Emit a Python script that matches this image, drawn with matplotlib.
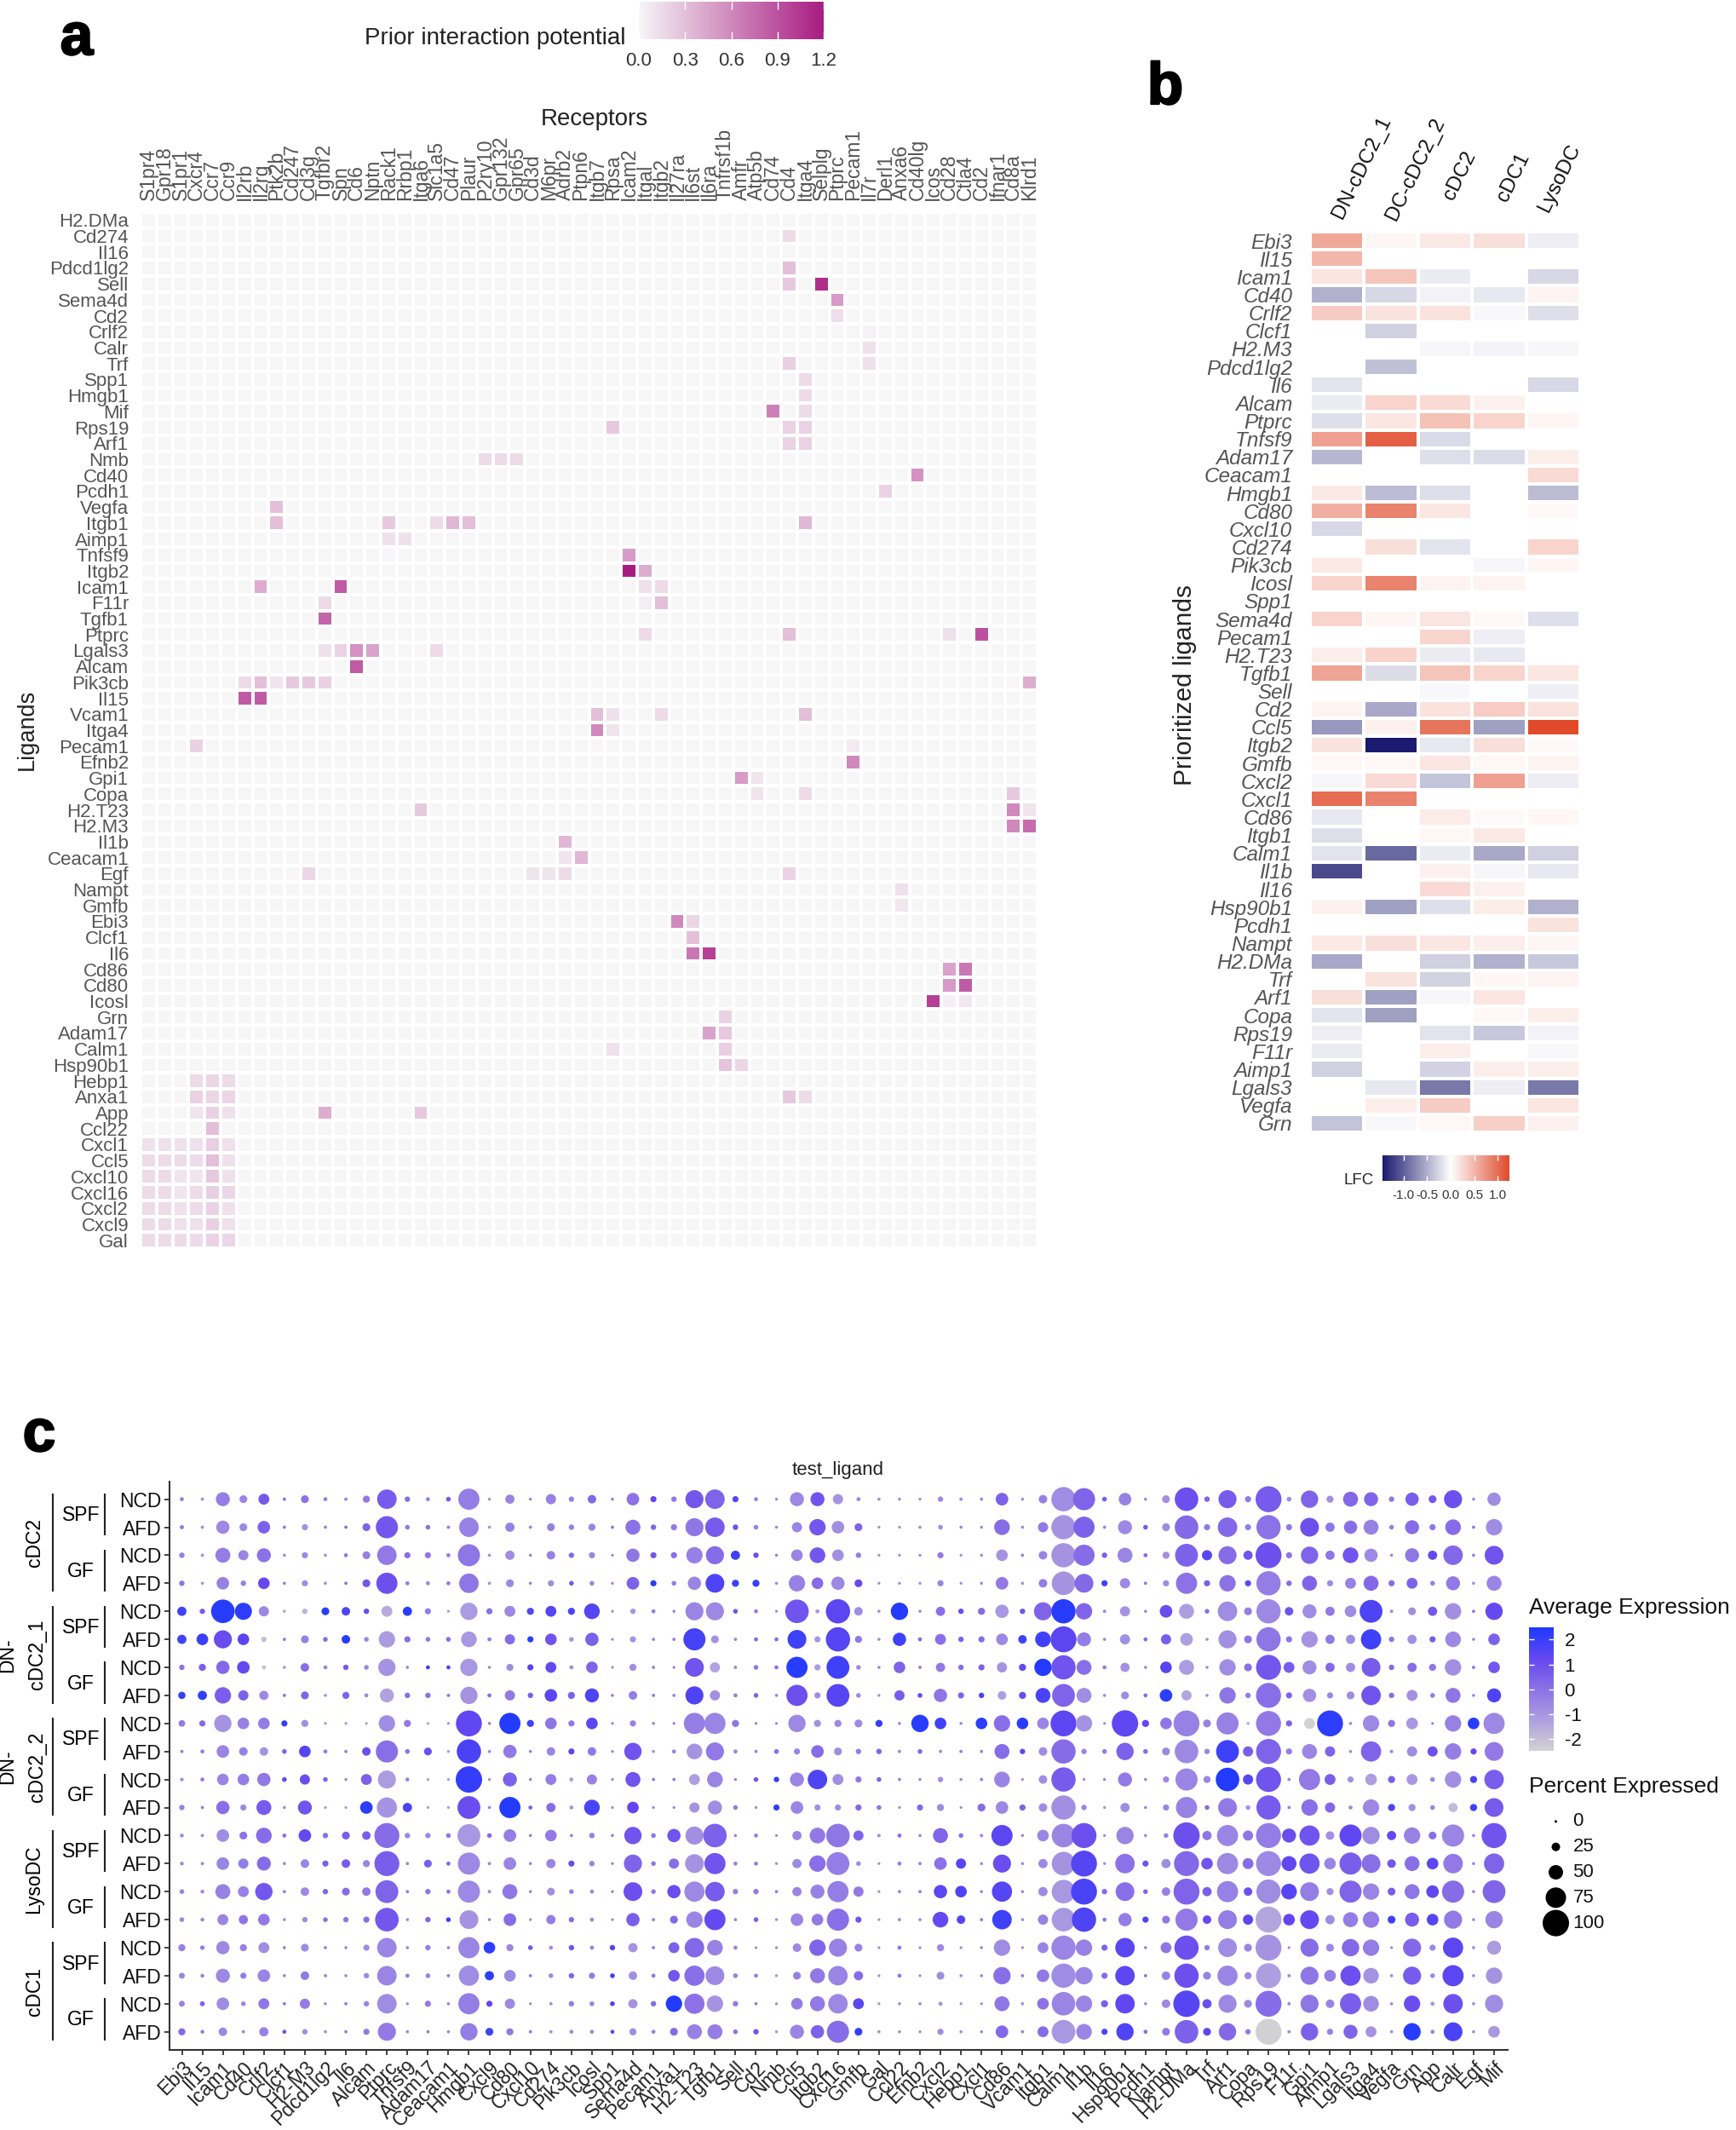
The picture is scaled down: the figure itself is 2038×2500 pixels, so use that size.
import numpy as np
import matplotlib
matplotlib.use('Agg')
import matplotlib.pyplot as plt
import matplotlib.patheffects as pe
from matplotlib.colors import LinearSegmentedColormap
from matplotlib.transforms import blended_transform_factory, IdentityTransform

plt.rcParams['font.family'] = ['Liberation Sans', 'DejaVu Sans']

W, H = 2038, 2500
GREY = '#555555'

# ---- panel a data ----
receptors = ['S1pr4', 'Gpr18', 'S1pr1', 'Cxcr4', 'Ccr7', 'Ccr9', 'Il2rb', 'Il2rg', 'Ptk2b', 'Cd247', 'Cd3g', 'Tgfbr2',
             'Spn', 'Cd6', 'Nptn', 'Rack1', 'Rrbp1', 'Itga6', 'Slc1a5', 'Cd47', 'Plaur', 'P2ry10', 'Gpr132', 'Gpr65',
             'Cd3d', 'M6pr', 'Adrb2', 'Ptpn6', 'Itgb7', 'Rpsa', 'Icam2', 'Itgal', 'Itgb2', 'Il27ra', 'Il6st', 'Il6ra',
             'Tnfrsf1b', 'Amfr', 'Atp5b', 'Cd74', 'Cd4', 'Itga4', 'Selplg', 'Ptprc', 'Pecam1', 'Il7r', 'Derl1', 'Anxa6',
             'Cd40lg', 'Icos', 'Cd28', 'Ctla4', 'Cd2', 'Ifnar1', 'Cd8a', 'Klrd1']
ligands_a = ['H2.DMa', 'Cd274', 'Il16', 'Pdcd1lg2', 'Sell', 'Sema4d', 'Cd2', 'Crlf2', 'Calr', 'Trf', 'Spp1', 'Hmgb1',
             'Mif', 'Rps19', 'Arf1', 'Nmb', 'Cd40', 'Pcdh1', 'Vegfa', 'Itgb1', 'Aimp1', 'Tnfsf9', 'Itgb2', 'Icam1',
             'F11r', 'Tgfb1', 'Ptprc', 'Lgals3', 'Alcam', 'Pik3cb', 'Il15', 'Vcam1', 'Itga4', 'Pecam1', 'Efnb2', 'Gpi1',
             'Copa', 'H2.T23', 'H2.M3', 'Il1b', 'Ceacam1', 'Egf', 'Nampt', 'Gmfb', 'Ebi3', 'Clcf1', 'Il6', 'Cd86',
             'Cd80', 'Icosl', 'Grn', 'Adam17', 'Calm1', 'Hsp90b1', 'Hebp1', 'Anxa1', 'App', 'Ccl22', 'Cxcl1', 'Ccl5',
             'Cxcl10', 'Cxcl16', 'Cxcl2', 'Cxcl9', 'Gal']
# only the non zero cells
prior = {
    'Cd274': {'Cd4': .15}, 'Pdcd1lg2': {'Cd4': .3}, 'Sell': {'Cd4': .25, 'Selplg': 1.1},
    'Sema4d': {'Ptprc': .5}, 'Cd2': {'Ptprc': .14}, 'Crlf2': {'Il7r': .03}, 'Calr': {'Il7r': .12},
    'Trf': {'Cd4': .22, 'Il7r': .12}, 'Spp1': {'Itga4': .15}, 'Hmgb1': {'Itga4': .15},
    'Mif': {'Cd74': .65, 'Itga4': .15}, 'Rps19': {'Rpsa': .25, 'Cd4': .2, 'Itga4': .2},
    'Arf1': {'Cd4': .2, 'Itga4': .2}, 'Nmb': {'P2ry10': .15, 'Gpr132': .15, 'Gpr65': .15},
    'Cd40': {'Cd40lg': .55}, 'Pcdh1': {'Derl1': .2}, 'Vegfa': {'Ptk2b': .3},
    'Itgb1': {'Ptk2b': .3, 'Rack1': .25, 'Slc1a5': .15, 'Cd47': .35, 'Plaur': .3, 'Itga4': .35},
    'Aimp1': {'Rack1': .12, 'Rrbp1': .12}, 'Tnfsf9': {'Icam2': .5}, 'Itgb2': {'Icam2': 1.2, 'Itgal': .4},
    'Icam1': {'Il2rg': .4, 'Spn': .85, 'Itgal': .12, 'Itgb2': .15},
    'F11r': {'Tgfbr2': .15, 'Itgal': .05, 'Itgb2': .3}, 'Tgfb1': {'Tgfbr2': .8},
    'Ptprc': {'Itgal': .15, 'Cd4': .3, 'Cd28': .12, 'Cd2': .9},
    'Lgals3': {'Tgfbr2': .12, 'Spn': .2, 'Cd6': .55, 'Nptn': .45, 'Slc1a5': .15}, 'Alcam': {'Cd6': .85},
    'Pik3cb': {'Il2rb': .15, 'Il2rg': .3, 'Ptk2b': .1, 'Cd247': .25, 'Cd3g': .25, 'Tgfbr2': .2, 'Klrd1': .4},
    'Il15': {'Il2rb': .85, 'Il2rg': .85}, 'Vcam1': {'Itgb7': .3, 'Rpsa': .12, 'Itgb2': .15, 'Itga4': .3},
    'Itga4': {'Itgb7': .6, 'Rpsa': .1}, 'Pecam1': {'Cxcr4': .2, 'Pecam1': .07}, 'Efnb2': {'Pecam1': .6},
    'Gpi1': {'Amfr': .5, 'Atp5b': .1}, 'Copa': {'Atp5b': .1, 'Itga4': .15, 'Cd8a': .25},
    'H2.T23': {'Itga6': .25, 'Cd8a': .6, 'Klrd1': .1}, 'H2.M3': {'Cd8a': .6, 'Klrd1': .75},
    'Il1b': {'Adrb2': .35}, 'Ceacam1': {'Adrb2': .1, 'Ptpn6': .35},
    'Egf': {'Cd3g': .18, 'Cd3d': .1, 'M6pr': .1, 'Adrb2': .15, 'Cd4': .2}, 'Nampt': {'Anxa6': .12},
    'Gmfb': {'Anxa6': .08}, 'Ebi3': {'Il27ra': .6, 'Il6st': .18}, 'Clcf1': {'Il6st': .3},
    'Il6': {'Il6st': .7, 'Il6ra': 1.0}, 'Cd86': {'Cd28': .45, 'Ctla4': .7}, 'Cd80': {'Cd28': .5, 'Ctla4': .85},
    'Icosl': {'Icos': 1.0, 'Cd28': .04, 'Ctla4': .08}, 'Grn': {'Tnfrsf1b': .2},
    'Adam17': {'Il6ra': .45, 'Tnfrsf1b': .25}, 'Calm1': {'Rpsa': .12, 'Tnfrsf1b': .22},
    'Hsp90b1': {'Tnfrsf1b': .28, 'Amfr': .18}, 'Hebp1': {'Cxcr4': .15, 'Ccr7': .18, 'Ccr9': .15},
    'Anxa1': {'Cxcr4': .2, 'Ccr7': .18, 'Ccr9': .18, 'Cd4': .25, 'Itga4': .15},
    'App': {'Cxcr4': .1, 'Ccr7': .2, 'Ccr9': .12, 'Tgfbr2': .4, 'Itga6': .25}, 'Ccl22': {'Ccr7': .3},
}
chemokine_rows = {
    'Cxcl1': [.12, .12, .12, .12, .22, .12], 'Ccl5': [.15, .15, .15, .15, .3, .12],
    'Cxcl10': [.15, .15, .1, .1, .25, .12], 'Cxcl16': [.15, .15, .1, .15, .22, .18],
    'Cxcl2': [.15, .15, .12, .15, .2, .12], 'Cxcl9': [.15, .15, .12, .12, .22, .12],
    'Gal': [.15, .15, .15, .15, .2, .18],
}

# ---- panel b data ----
celltypes_b = ['DN-cDC2_1', 'DC-cDC2_2', 'cDC2', 'cDC1', 'LysoDC']
N = np.nan
lfc = {
    'Ebi3': [.6, .06, .15, .22, -.1], 'Il15': [.5, N, N, N, N], 'Icam1': [.18, .4, -.13, N, -.25],
    'Cd40': [-.5, -.25, -.08, -.15, .08], 'Crlf2': [.35, .2, .2, -.04, -.2], 'Clcf1': [N, -.3, N, N, N],
    'H2.M3': [N, N, -.05, -.07, -.05], 'Pdcd1lg2': [N, -.4, N, N, N], 'Il6': [-.17, N, N, N, -.25],
    'Alcam': [-.13, .3, .25, .1, N], 'Ptprc': [-.2, .17, .42, .3, .06], 'Tnfsf9': [.65, 1.1, -.23, N, N],
    'Adam17': [-.45, N, -.2, -.22, .12], 'Ceacam1': [N, N, N, N, .25], 'Hmgb1': [.15, -.42, -.2, N, -.42],
    'Cd80': [.55, .85, .17, N, .04], 'Cxcl10': [-.25, N, N, N, N], 'Cd274': [N, .22, -.17, N, .3],
    'Pik3cb': [.15, N, N, -.05, .06], 'Icosl': [.28, .85, .08, .08, N], 'Spp1': [N, N, N, N, N],
    'Sema4d': [.3, .06, .17, .04, -.2], 'Pecam1': [N, N, .28, -.1, N], 'H2.T23': [.12, .3, -.13, -.15, N],
    'Tgfb1': [.62, -.22, .4, .3, .17], 'Sell': [N, N, -.04, N, -.1], 'Cd2': [.08, -.55, .2, .35, .2],
    'Ccl5': [-.65, .1, .95, -.6, 1.25], 'Itgb2': [.2, -1.45, -.15, .22, .04], 'Gmfb': [.05, .05, .17, .05, .07],
    'Cxcl2': [-.05, .25, -.38, .65, -.12], 'Cxcl1': [1.0, .85, N, N, N], 'Cd86': [-.15, N, .14, .03, .05],
    'Itgb1': [-.2, N, .05, .15, N], 'Calm1': [-.17, -.95, -.13, -.55, -.3], 'Il1b': [-1.15, N, .1, -.05, -.15],
    'Il16': [N, N, .25, .1, N], 'Hsp90b1': [.1, -.6, -.2, .13, -.5], 'Pcdh1': [N, N, N, N, .2],
    'Nampt': [.15, .22, .17, .12, .06], 'H2.DMa': [-.55, N, -.3, -.5, -.35], 'Trf': [N, .2, -.28, .05, .08],
    'Arf1': [.22, -.6, -.05, .17, N], 'Copa': [-.17, -.6, N, .04, .12], 'Rps19': [-.1, N, -.18, -.35, -.08],
    'F11r': [-.13, N, .12, N, -.04], 'Aimp1': [-.3, N, -.28, .12, .12], 'Lgals3': [N, -.15, -.85, -.1, -.85],
    'Vegfa': [N, .12, .35, N, .17], 'Grn': [-.38, -.04, .05, .33, .1],
}

# ---- panel c data: one list per ligand, rows top to bottom ----
row_diets = ['NCD', 'AFD'] * 10
row_housing = ['SPF', 'GF'] * 5
row_types = ['cDC2', 'DN-\ncDC2_1', 'DN-\ncDC2_2', 'LysoDC', 'cDC1']
pct = {
    'Ebi3': [6, 7, 12, 12, 28, 28, 12, 20, 17, 3, 4, 12, 5, 5, 9, 9, 19, 14, 14, 19],
    'Il15': [3, 3, 3, 2, 12, 38, 19, 28, 15, 6, 6, 3, 3, 3, 5, 5, 8, 5, 10, 5],
    'Icam1': [48, 45, 52, 42, 88, 65, 45, 58, 62, 42, 38, 45, 42, 42, 52, 35, 45, 48, 42, 25],
    'Cd40': [22, 22, 32, 12, 61, 38, 42, 32, 38, 25, 38, 15, 22, 32, 35, 28, 19, 15, 9, 3],
    'Crlf2': [35, 42, 48, 38, 32, 12, 6, 28, 38, 25, 45, 52, 55, 48, 62, 38, 35, 42, 35, 28],
    'Clcf1': [3, 3, 2, 2, 3, 3, 2, 3, 15, 9, 9, 2, 6, 2, 3, 2, 2, 2, 3, 6],
    'H2-M3': [22, 15, 15, 15, 12, 22, 25, 22, 19, 38, 32, 48, 42, 25, 25, 12, 22, 25, 32, 12],
    'Pdcd1lg2': [6, 3, 2, 2, 22, 9, 6, 2, 1, 6, 9, 1, 12, 15, 12, 9, 3, 3, 2, 2],
    'Il6': [3, 3, 6, 3, 25, 25, 12, 19, 1, 3, 2, 1, 22, 25, 22, 12, 2, 2, 3, 3],
    'Alcam': [19, 22, 22, 22, 12, 9, 9, 6, 1, 25, 35, 42, 25, 19, 25, 15, 15, 12, 12, 15],
    'Ptprc': [71, 82, 71, 78, 35, 58, 62, 48, 58, 82, 65, 74, 94, 94, 85, 88, 71, 71, 71, 65],
    'Tnfsf9': [12, 9, 15, 6, 28, 15, 2, 12, 19, 9, 6, 28, 12, 3, 3, 2, 2, 6, 1, 2],
    'Adam17': [6, 9, 15, 6, 15, 9, 6, 12, 1, 22, 1, 1, 12, 22, 12, 12, 12, 9, 15, 3],
    'Ceacam1': [9, 3, 6, 6, 1, 9, 6, 3, 1, 1, 1, 1, 9, 6, 6, 9, 2, 3, 2, 2],
    'Hmgb1': [78, 71, 82, 71, 62, 55, 62, 62, 98, 91, 100, 85, 85, 82, 82, 68, 78, 74, 78, 62],
    'Cxcl9': [2, 2, 2, 2, 15, 6, 2, 6, 2, 2, 1, 2, 9, 3, 3, 2, 38, 28, 15, 22],
    'Cd80': [28, 28, 28, 22, 35, 32, 19, 32, 78, 45, 48, 78, 42, 42, 52, 42, 19, 38, 32, 19],
    'Cxcl10': [2, 3, 2, 2, 19, 15, 15, 12, 19, 2, 2, 6, 2, 2, 2, 1, 9, 3, 1, 3],
    'Cd274': [32, 22, 25, 15, 35, 38, 35, 42, 38, 25, 35, 28, 38, 28, 22, 28, 6, 9, 3, 3],
    'Pik3cb': [12, 12, 12, 9, 19, 9, 6, 19, 15, 15, 6, 6, 3, 15, 9, 12, 12, 12, 12, 6],
    'Icosl': [25, 19, 15, 9, 55, 45, 38, 48, 38, 25, 32, 55, 12, 12, 6, 6, 6, 15, 9, 6],
    'Spp1': [2, 3, 1, 1, 1, 1, 1, 2, 1, 1, 1, 1, 2, 1, 1, 1, 12, 9, 9, 6],
    'Sema4d': [42, 52, 45, 42, 12, 15, 19, 25, 15, 62, 52, 38, 62, 65, 68, 45, 28, 25, 28, 19],
    'Pecam1': [15, 12, 15, 15, 6, 3, 3, 3, 2, 2, 3, 1, 9, 9, 9, 3, 3, 6, 12, 6],
    'Anxa1': [12, 15, 15, 9, 2, 3, 1, 3, 1, 6, 3, 1, 45, 32, 45, 22, 35, 38, 58, 22],
    'H2-T23': [65, 65, 58, 45, 65, 82, 68, 65, 78, 55, 35, 32, 65, 68, 74, 58, 71, 74, 74, 52],
    'Tgfb1': [71, 71, 65, 68, 65, 22, 32, 32, 78, 65, 55, 48, 88, 78, 71, 78, 55, 68, 58, 52],
    'Sell': [15, 12, 28, 19, 9, 3, 3, 6, 19, 6, 2, 9, 2, 6, 12, 3, 6, 9, 12, 9],
    'Cd2': [6, 9, 12, 19, 6, 6, 9, 9, 1, 3, 9, 1, 6, 6, 12, 9, 1, 6, 3, 12],
    'Nmb': [1, 2, 2, 2, 1, 6, 6, 2, 1, 9, 12, 15, 1, 1, 3, 1, 1, 1, 1, 1],
    'Ccl5': [48, 32, 38, 58, 88, 68, 78, 78, 62, 15, 48, 42, 28, 28, 28, 42, 25, 22, 38, 48],
    'Itgb2': [48, 58, 55, 38, 6, 15, 15, 15, 19, 42, 71, 15, 55, 58, 48, 38, 58, 52, 52, 45],
    'Cxcl16': [32, 42, 38, 45, 91, 91, 85, 85, 19, 22, 35, 15, 88, 85, 78, 82, 65, 71, 71, 82],
    'Gmfb': [6, 22, 12, 22, 25, 19, 9, 9, 22, 12, 15, 15, 32, 9, 32, 15, 22, 28, 35, 22],
    'Gal': [2, 1, 1, 1, 2, 2, 2, 1, 19, 12, 9, 9, 3, 1, 1, 1, 1, 1, 1, 2],
    'Ccl22': [2, 1, 1, 1, 62, 45, 38, 32, 2, 3, 3, 1, 6, 6, 3, 3, 6, 6, 2, 2],
    'Efnb2': [1, 2, 1, 1, 2, 6, 3, 9, 62, 9, 2, 15, 2, 3, 3, 2, 1, 1, 2, 1],
    'Cxcl2': [12, 9, 15, 15, 28, 35, 28, 45, 38, 3, 12, 19, 52, 42, 45, 55, 19, 22, 6, 15],
    'Hebp1': [3, 2, 1, 1, 12, 12, 12, 15, 2, 3, 2, 1, 9, 32, 38, 25, 1, 2, 1, 2],
    'Cxcl1': [3, 2, 2, 2, 19, 15, 15, 12, 38, 3, 3, 22, 3, 2, 2, 3, 2, 2, 1, 2],
    'Cd86': [42, 55, 38, 42, 45, 38, 32, 25, 58, 52, 55, 42, 78, 65, 74, 71, 58, 62, 52, 42],
    'Vcam1': [2, 2, 3, 2, 12, 25, 19, 19, 38, 12, 1, 15, 2, 2, 2, 2, 1, 3, 2, 3],
    'Itgb1': [25, 32, 25, 25, 65, 55, 62, 52, 38, 25, 25, 25, 38, 28, 28, 32, 35, 42, 38, 35],
    'Calm1': [91, 91, 91, 88, 91, 98, 91, 85, 98, 91, 91, 91, 88, 88, 88, 88, 91, 91, 88, 88],
    'Il1b': [82, 78, 78, 68, 58, 48, 52, 52, 58, 12, 1, 12, 94, 98, 98, 91, 58, 62, 58, 55],
    'Il16': [9, 3, 12, 15, 3, 2, 6, 2, 1, 9, 2, 1, 1, 1, 12, 6, 15, 15, 19, 15],
    'Hsp90b1': [42, 48, 52, 32, 32, 32, 28, 22, 100, 62, 48, 28, 62, 71, 68, 45, 71, 71, 71, 62],
    'Pcdh1': [2, 9, 6, 3, 2, 6, 2, 6, 19, 9, 2, 2, 2, 15, 9, 15, 2, 3, 2, 6],
    'Nampt': [22, 22, 19, 15, 42, 32, 38, 42, 38, 22, 15, 15, 9, 28, 25, 22, 35, 25, 25, 22],
    'H2-DMa': [88, 88, 85, 78, 52, 42, 52, 32, 98, 88, 82, 78, 100, 94, 98, 82, 91, 91, 100, 88],
    'Trf': [12, 15, 32, 15, 9, 2, 2, 2, 22, 12, 19, 9, 28, 38, 28, 25, 12, 22, 28, 22],
    'Arf1': [65, 71, 65, 58, 71, 65, 58, 58, 82, 85, 88, 68, 78, 78, 78, 68, 68, 74, 65, 62],
    'Copa': [15, 15, 28, 15, 22, 22, 22, 12, 2, 32, 32, 9, 32, 35, 25, 32, 22, 19, 22, 12],
    'Rps19': [98, 91, 98, 91, 91, 91, 94, 94, 94, 94, 94, 91, 94, 94, 91, 98, 98, 94, 98, 98],
    'F11r': [9, 15, 15, 12, 25, 15, 35, 15, 15, 15, 3, 3, 48, 52, 55, 38, 1, 3, 3, 3],
    'Gpi1': [62, 68, 62, 52, 48, 58, 48, 45, 35, 52, 78, 58, 74, 74, 68, 68, 65, 65, 65, 62],
    'Aimp1': [19, 28, 28, 15, 28, 28, 28, 15, 98, 32, 35, 32, 25, 38, 19, 28, 22, 38, 25, 15],
    'Lgals3': [52, 45, 55, 35, 38, 28, 28, 22, 2, 2, 15, 6, 82, 82, 82, 52, 62, 74, 78, 48],
    'Itga4': [48, 52, 45, 52, 85, 74, 68, 71, 58, 74, 38, 58, 62, 68, 58, 58, 58, 55, 55, 35],
    'Vegfa': [12, 9, 2, 15, 3, 12, 12, 12, 19, 3, 19, 19, 28, 25, 22, 22, 1, 2, 2, 2],
    'Grn': [45, 48, 48, 35, 22, 28, 28, 35, 38, 32, 35, 19, 58, 52, 52, 48, 65, 65, 58, 62],
    'App': [22, 15, 28, 9, 28, 15, 19, 9, 1, 32, 9, 9, 22, 38, 42, 38, 15, 9, 6, 6],
    'Calr': [65, 55, 71, 48, 58, 55, 58, 52, 58, 58, 58, 28, 82, 71, 82, 65, 74, 78, 71, 68],
    'Egf': [2, 3, 3, 2, 3, 2, 3, 2, 38, 15, 19, 19, 2, 2, 2, 2, 2, 2, 2, 2],
    'Mif': [45, 58, 68, 52, 62, 38, 38, 48, 78, 68, 71, 68, 94, 74, 85, 62, 48, 58, 65, 38],
}
avg = {
    'Ebi3': [-.3, -.3, -.3, -.1, 1.9, 1.9, 0, 2, -.2, -.3, -.5, -.4, -.5, -.6, -.5, -.5, -.4, -.5, -.4, .3],
    'Il15': [-.8, -.8, -.8, -.8, .6, 2, .6, 2.1, .3, -.2, -.3, -.3, -.5, -.5, -.5, -.4, -.2, -.3, .4, -.2],
    'Icam1': [-.3, -.6, -.3, -.4, 2.3, 1.1, .3, .6, -.9, -.5, -.5, .1, -.7, -.5, -.4, -.5, -.6, -.6, -.7, -.6],
    'Cd40': [-.5, -.6, -.5, -.4, 2.2, 1.4, 1.2, .5, -.4, -.4, -.3, -.6, 0, -.3, -.4, -.1, -.4, -.3, -.5, -.5],
    'Crlf2': [.8, .5, 0, 1.2, -.6, -2, -2, -.6, -.3, -.9, -.2, .7, .2, .2, .8, -.2, -.7, -.5, -.1, -.4],
    'Clcf1': [.2, -.1, -.4, -.2, -1.5, -.2, -.8, 0, 2.1, .5, 1.2, -.5, .1, -.3, -.3, -.6, 0, -.3, -.1, 1],
    'H2-M3': [0, -.8, -.6, -.7, -1.7, -.4, .1, .4, -.8, 1.5, 1.1, .9, 1.2, -.5, -.6, -.7, -.7, -.2, -.3, -.7],
    'Pdcd1lg2': [-.4, -.5, -.5, -.5, 2.2, .2, -.5, -.7, -1, -.3, .4, -1, .1, .6, .4, .1, -.4, -.5, -.6, -.5],
    'Il6': [-.4, .2, -.2, -.1, 1.6, 2.3, .8, .4, -1, -.4, -.7, -1, .7, .7, .2, -.1, -.4, -.5, -.3, -.3],
    'Alcam': [-.2, .4, -.4, .8, 1.1, -.5, -.5, -.6, -1.2, 1, .5, 2.2, .6, -.5, -.2, .1, -.7, -.6, -.5, -.2],
    'Ptprc': [.7, .8, -.2, 1, -1.5, -1.1, -.9, -1.3, -.7, .1, -1.1, -.9, .2, .6, .4, .8, -.5, -.5, -.7, -.2],
    'Tnfsf9': [.1, -.2, .2, -.2, 2.2, .2, -.3, .2, -.2, 0, -.6, 1.7, -.5, -.5, -.3, -.5, -.3, -.2, -.5, -.4],
    'Adam17': [-.3, 0, -.1, -.5, -.3, -.2, 2, 0, -1.3, 1, -1, -1, -.6, .6, -.1, .4, -.3, -.4, -.2, -.3],
    'Ceacam1': [.8, -.1, -.2, -.2, -1, .2, 1.6, 0, -1, -1, -1, -1, -.1, .4, 0, 2, -.3, -.2, -.3, -.3],
    'Hmgb1': [-.3, -.4, -.1, -.1, -1.1, -1, -1, -.9, 1.3, 1.7, 2.1, 1.1, -1, -.6, -.6, -.9, -.5, -.7, -.3, -.3],
    'Cxcl9': [-.8, -.8, -.6, -.6, .1, -.3, -.6, .2, -.3, -.5, -.5, -.4, .2, -.5, -.4, -.3, 2.2, 2.2, 1.3, 1.9],
    'Cd80': [-.5, -.4, -.7, -.6, -.6, .2, -.7, -.2, 2.4, -.2, .5, 2.4, -.3, -.5, -.1, .2, -.5, -.6, -.6, -.2],
    'Cxcl10': [-.5, -.5, -.4, -.4, 1.5, 2.3, 1.5, .6, 1.8, -.3, -.3, .6, -.3, -.4, -.4, -.4, .8, -.3, -.5, -.1],
    'Cd274': [-.4, -.4, -.4, -.7, 1.5, .9, 1.2, 1.4, -.1, -.5, -.3, .2, -.2, -.5, -.8, -.3, -.7, -.7, -.7, -.8],
    'Pik3cb': [-.4, -.4, .3, .8, 1.7, -1, -.7, .5, -.2, 1.3, -1.1, -1, -.4, 1.1, -.4, .2, .9, .4, -.3, -.6],
    'Icosl': [.3, -.5, -.5, -.5, 1.5, .5, .4, 1.6, 1.4, -.2, -.4, 1.7, -.4, -.5, -.5, -.5, -.3, -.3, -.4, -.5],
    'Spp1': [-.3, -.1, -.4, -.4, -.6, -.6, -.7, -.2, -.4, -.3, -.3, -.5, -.2, -.3, -.2, -.4, 1.6, 2, 1.7, 1.4],
    'Sema4d': [0, 0, -.1, .5, -1, -.9, -.7, -.3, -.4, .9, .9, 1.3, .9, .4, 1, .6, -.9, -.8, -.9, -.7],
    'Pecam1': [1.3, .4, .8, 2.2, -.2, -.4, -.4, -.2, -.5, -.6, -.2, -.5, -.1, -.1, -.2, -.4, -.3, -.2, .2, -.4],
    'Anxa1': [-.2, -.2, .1, -.3, -.5, -.4, -.5, -.5, -.5, -.4, -.3, -.5, .9, .1, 1.1, .3, .5, .8, 2.4, .2],
    'H2-T23': [.8, -.1, -.4, -.5, -.5, 1.8, .9, 1.6, -.3, -.9, -1.2, -.9, -.8, -.9, -.6, -.5, .3, .1, 0, -.4],
    'Tgfb1': [.4, .7, .2, 1.6, -.6, -.9, -1.3, -.8, -.5, -.2, -.5, -.7, .5, .9, .7, 1.2, -.4, -.6, -.9, -.3],
    'Sell': [1.5, 1.1, 1.9, 1.9, .9, -.5, -.4, -.4, -.1, -.4, -.6, -.3, -.4, -.4, -.4, -.4, -.4, -.4, -.2, -.1],
    'Cd2': [-.4, -.4, 1, 2, -.3, .3, -.1, .5, -.5, -.5, .8, -.5, -.3, -.3, -.2, .6, -.5, -.3, -.4, .9],
    'Nmb': [-.5, -.5, -.3, -.5, -.6, .2, 0, -.3, -.6, .2, 2.1, 2.1, -.6, -.6, -.3, -.5, -.5, -.6, -.6, -.6],
    'Ccl5': [-.6, -.5, -.5, -.4, .9, 1.9, 2.3, 1, -.6, -.5, -.5, -.5, -.5, -.6, -.5, -.5, -.6, -.4, -.3, -.5],
    'Itgb2': [.9, .8, .8, .2, -1, -1, -1.1, -.7, -.8, .2, 1.6, -.8, -.2, .1, -.4, -.2, .4, -.2, -.2, .5],
    'Cxcl16': [-.9, -.8, -.8, -.6, 1.4, 1.5, 1.9, 1.5, -.6, -.7, -.8, -.7, -.1, -.3, -.3, .1, -.4, -.5, -.6, .2],
    'Gmfb': [-.5, .4, -.3, 1.2, -.7, -.2, -.7, -.6, -.6, -.3, -.1, .3, .4, -.7, -.2, .9, -.4, .2, 1.4, 2.1],
    'Gal': [-.6, -.6, -.6, -.6, -.5, -.5, -.5, -.6, 2.1, .4, .5, -.1, -.5, -.7, -.7, -.7, -.7, -.7, -.7, -.6],
    'Ccl22': [-.6, -.6, -.6, -.6, 2.4, 1.9, .4, .7, -.5, -.5, -.4, -.6, .2, -.3, -.4, -.5, -.1, -.1, -.6, -.6],
    'Efnb2': [-.6, -.5, -.6, -.6, -.5, .2, -.2, 1.2, 2.3, .3, -.6, .3, -.4, -.4, -.3, -.4, -.5, -.5, -.5, -.5],
    'Cxcl2': [-.6, -.7, -.2, -.5, .1, .1, -.2, -.1, 1.9, -.5, -.8, -.7, .4, 0, 1.4, 1.2, -.6, -.7, -.8, -.7],
    'Hebp1': [-.5, -.5, -.6, -.6, 1, .5, .2, .4, -.6, -.4, -.6, -.6, 0, 1.5, 1.6, 1.5, -.7, -.6, -.7, -.6],
    'Cxcl1': [-.5, -.6, -.6, -.6, .2, .2, .5, 1.8, 2.2, -.5, -.4, .2, -.4, -.5, -.4, -.2, -.5, -.5, -.6, -.5],
    'Cd86': [.5, .2, -.9, -.2, -1, -.6, -.9, -1.2, .1, .2, -.5, -.6, 1.4, 1.1, 1.5, 1.9, -.7, .1, -.1, .3],
    'Vcam1': [-.6, -.5, -.4, -.6, .9, 1.9, 1.2, 1.1, 2.3, 1.3, -.7, .5, -.5, -.5, -.4, -.5, -.6, -.4, -.6, -.4],
    'Itgb1': [-.4, -.2, -.5, -.3, .4, 1.9, 2.4, 1.7, -.5, -.7, -.8, -.7, -.5, -.6, -.6, -.4, -.5, -.2, 0, .2],
    'Calm1': [-.7, -.9, -.9, -.9, 2.3, 1.4, .9, .4, 1.4, .2, .7, -.8, -.5, -.9, -1, -1, -.5, -.7, -.5, -1],
    'Il1b': [.4, .5, .2, .3, .4, -.3, .1, -.7, -.9, -.5, -.6, -.5, 1, 1.5, 1.7, 1.6, -.4, -.5, -.5, -.5],
    'Il16': [.6, -.4, .5, 1.9, -.5, -.4, -.4, -.5, -.7, -.2, -.6, -.7, -.6, -.6, .2, -.1, .4, .2, .5, 1.7],
    'Hsp90b1': [-.4, -.6, -.5, -.6, -.9, -.8, -.8, -.7, 1.3, .5, -.2, -.7, -.5, 0, .1, -.3, 1.4, 1.4, 1.3, 1.6],
    'Pcdh1': [-.5, .8, .3, -.2, -.5, .2, -.5, .2, 1.3, .2, -.5, -.5, -.5, .9, .4, 1.7, -.3, -.1, -.5, .1],
    'Nampt': [-.8, -.7, -.8, -.7, 1.1, .6, 1.5, 2.2, -.1, -.6, -.6, -.5, -.4, -.7, -.4, -.2, -.1, -.4, -.6, -.2],
    'H2-DMa': [1, .3, .5, 0, -1.2, -1.2, -1.1, -1.4, -.4, -.6, -.5, -.4, 1, .3, .4, -.2, 1, 1, 1.5, .5],
    'Trf': [.4, -.2, 1.5, .6, 0, -.7, -.7, -.7, -.4, -.5, -.5, .2, -.1, .9, .6, 1.2, -.3, -.4, 1, 1.4],
    'Arf1': [.7, .3, .2, 0, -.7, -.8, -.7, -.1, -.4, 1.9, 2.4, -.2, -.5, -.6, -.4, -.3, -.7, -.5, -.6, .3],
    'Copa': [-.2, -.3, .9, 1.3, -.3, -.1, .1, -.3, -1.5, .6, 1.5, -.9, -.1, .2, 1, 1.4, -.5, -.6, -.6, -.3],
    'Rps19': [.7, 0, 1, -.3, -.6, -.1, .8, .1, -.2, .4, .9, .7, -.3, -.6, -.7, -1.4, -.9, -1.2, .2, -2.4],
    'F11r': [-.6, -.2, -.1, .2, .9, -.1, .7, .4, .5, -.3, -.5, -.4, 1.1, 1.3, 1.5, 1.3, -.6, -.5, -.5, -.5],
    'Gpi1': [.4, 1, .4, .4, -.7, -.9, -.7, -.8, -2.4, -.5, -.2, .1, .9, .9, -.3, 1.2, .2, -.1, -.1, .5],
    'Aimp1': [-.8, -.1, -.1, -.7, -.2, -.2, .3, -.5, 2.2, .4, .6, .3, -.8, -.5, -.8, -.7, -.6, -.3, -.5, -.4],
    'Lgals3': [.3, .1, .9, -.4, -.7, -.7, -.7, -.7, -.5, -.5, -.8, -.6, 1.3, .6, .4, -.3, .3, 1, .6, .4],
    'Itga4': [.4, -.4, -.6, .3, 1.6, 1.9, .7, .9, -.6, .4, -1.2, -.6, -.7, .1, -.5, -.3, -.3, -.9, -.7, -.9],
    'Vegfa': [-.2, -.3, -.5, .2, -.5, -.1, .3, .2, -.1, -.3, .6, 1.6, 1.2, .8, .6, 1.9, -.5, -.5, -.5, -.5],
    'Grn': [.6, .2, -.1, .5, -.8, -.8, .2, -.8, -1, -.7, -1, -.8, -.4, .1, -.1, .6, .3, .7, 1.1, 2.3],
    'App': [.8, -.1, 1.2, -.3, .8, .7, -.2, -.2, -.5, 1, -.5, -.5, .1, 1.4, 1.3, 1.5, -.6, -.6, -.8, -.4],
    'Calr': [1, .2, .3, -.2, -.8, -.6, -.8, -.1, -.4, -.3, -.8, -1.9, -.5, -.2, .2, -.2, 1.4, 1.4, 1, 1.7],
    'Egf': [-.6, -.2, -.5, -.6, -.2, -.5, -.1, -.5, 2.3, 1.3, 1.7, 1.9, -.4, -.5, -.5, -.6, -.5, -.5, -.5, -.6],
    'Mif': [-.7, -.7, .9, -.5, 1.2, .5, .8, 1.6, -.6, -.2, .6, .7, .9, .4, .4, -.5, -1.1, -.9, -.7, -1],
}
size_breaks = [0, 25, 50, 75, 100]

# colour scales
prior_cmap = LinearSegmentedColormap.from_list('prior', ['#F7F6F7', '#A81C82'])
lfc_vmin, lfc_vmax = -1.45, 1.25
lfc_zero = -lfc_vmin/(lfc_vmax - lfc_vmin)
lfc_cmap = LinearSegmentedColormap.from_list(
    'lfc', [(0, '#1B1A6E'), (lfc_zero, '#FFFFFF'), (1, '#E04A2B')])
avg_vmin, avg_vmax = -2.47, 2.49
avg_cmap = LinearSegmentedColormap.from_list(
    'avg', ['#D3D3D3', '#AE9FE0', '#8C72E6', '#6448F0', '#1E3AFF'])

fig = plt.figure(figsize=(W/100, H/100), dpi=100)


def axes_px(left, top, right, bottom):
    return fig.add_axes([left/W, 1 - bottom/H, (right - left)/W, (bottom - top)/H])


def text_px(x, y, s, **kw):
    return fig.text(x/W, 1 - y/H, s, **kw)


def panel_letter(x, y, s):
    # the original letters are heavier than plain bold
    text_px(x, y, s, fontsize=50, fontweight='bold', ha='center', va='center',
            path_effects=[pe.withStroke(linewidth=1.6, foreground='black')])


def gradient_bar(box, cmap, vmin, vmax, ticks, labels, vertical=False, size=16, pad=4, color='#333333'):
    cax = axes_px(*box)
    grad = np.linspace(vmin, vmax, 256)
    if vertical:
        cax.imshow(grad[:, None], extent=(0, 1, vmin, vmax), origin='lower', aspect='auto', cmap=cmap)
        cax.set_xticks([])
        cax.set_yticks(ticks, labels)
        cax.yaxis.tick_right()
        cax.hlines(ticks, 0, .2, color='white', lw=1)
        cax.hlines(ticks, .8, 1, color='white', lw=1)
    else:
        cax.imshow(grad[None, :], extent=(vmin, vmax, 0, 1), aspect='auto', cmap=cmap)
        cax.set_yticks([])
        cax.set_xticks(ticks, labels)
        cax.vlines(ticks, 0, .2, color='white', lw=1)
        cax.vlines(ticks, .8, 1, color='white', lw=1)
    cax.tick_params(length=0, labelsize=size, pad=pad, labelcolor=color)
    for sp in cax.spines.values():
        sp.set_visible(False)
    return cax


# ---- panel a ----
prior_mat = np.zeros((len(ligands_a), len(receptors)))
for lig, cells in prior.items():
    for rec, val in cells.items():
        prior_mat[ligands_a.index(lig), receptors.index(rec)] = val
for lig, vals in chemokine_rows.items():
    prior_mat[ligands_a.index(lig), :len(vals)] = vals

ax_a = axes_px(165, 249, 1218, 1465)
ax_a.pcolormesh(np.arange(len(receptors) + 1), np.arange(len(ligands_a) + 1), prior_mat,
                cmap=prior_cmap, vmin=0, vmax=1.2, edgecolors='white', linewidth=1.5)
ax_a.set_xlim(0, len(receptors))
ax_a.set_ylim(len(ligands_a), 0)
ax_a.xaxis.tick_top()
ax_a.set_xticks(np.arange(len(receptors)) + .5, receptors, rotation=90, fontsize=16.5, color=GREY)
ax_a.set_yticks(np.arange(len(ligands_a)) + .5, ligands_a, fontsize=16, color=GREY)
ax_a.tick_params(length=0, pad=10)
for sp in ax_a.spines.values():
    sp.set_visible(False)

text_px(698, 140, 'Receptors', fontsize=20, ha='center', va='center', color='#222222')
text_px(32, 856, 'Ligands', fontsize=19.5, rotation=90, ha='center', va='center', color='#222222')
text_px(734, 45, 'Prior interaction potential', fontsize=20, ha='right', va='center', color='#222222')
gradient_bar((750, 2, 967, 46), prior_cmap, 0, 1.2, [0, .3, .6, .9, 1.2], ['0.0', '0.3', '0.6', '0.9', '1.2'],
             size=16, pad=11)
panel_letter(90, 46, 'a')

# ---- panel b ----
ligands_b = list(lfc)
lfc_mat = np.ma.masked_invalid(np.array([lfc[k] for k in ligands_b]))
ax_b = axes_px(1538, 272, 1855, 1329)
ax_b.pcolormesh(np.arange(len(celltypes_b) + 1), np.arange(len(ligands_b) + 1), lfc_mat,
                cmap=lfc_cmap, vmin=lfc_vmin, vmax=lfc_vmax, edgecolors='white', linewidth=1.5)
ax_b.set_xlim(0, len(celltypes_b))
ax_b.set_ylim(len(ligands_b), 0)
ax_b.set_xticks([])
ax_b.set_yticks(np.arange(len(ligands_b)) + .5, ligands_b, fontsize=17.5, color=GREY, style='italic')
ax_b.tick_params(length=0, pad=15)
for sp in ax_b.spines.values():
    sp.set_visible(False)
# top labels do not sit at one height in the original
label_offsets = [(0, 17), (0, 15), (4, 39), (4, 37), (-11, 25)]
for i, (name, off) in enumerate(zip(celltypes_b, label_offsets)):
    ax_b.annotate(name, xy=(i + .5, 0), xycoords='data', xytext=(off[0]*.72, off[1]*.72),
                  textcoords='offset points', rotation=64, rotation_mode='anchor',
                  ha='left', va='center', fontsize=17.5, color='#111111')

text_px(1391, 804, 'Prioritized ligands', fontsize=21.5, rotation=90, ha='center', va='center', color='#222222')
panel_letter(1368, 104, 'b')
text_px(1595, 1386, 'LFC', fontsize=13.5, ha='center', va='center', color='#222222')
gradient_bar((1623, 1356, 1772, 1386), lfc_cmap, lfc_vmin, lfc_vmax, [-1, -.5, 0, .5, 1],
             ['-1.0', '-0.5', '0.0', '0.5', '1.0'], size=11, pad=7)

# ---- panel c ----
ligands_c = list(pct)
n_rows = len(row_diets)
pct_mat = np.array([pct[k] for k in ligands_c], dtype=float)
avg_mat = np.array([avg[k] for k in ligands_c], dtype=float)
xx, yy = np.meshgrid(np.arange(len(ligands_c)), np.arange(n_rows), indexing='ij')


def dot_area(p):
    # radius is linear in percent, 3 px at 0 and 31 px at 100
    return ((3 + .28*np.asarray(p))*.72)**2


ax_c = axes_px(199, 1739, 1770, 2405.6)
ax_c.scatter(xx.ravel(), yy.ravel(), s=dot_area(pct_mat.ravel()), c=avg_mat.ravel(), cmap=avg_cmap,
             vmin=avg_vmin, vmax=avg_vmax, linewidths=0)
x_step, y_step = 24.07, 32.9
ax_c.set_xlim((199 - 213.5)/x_step, (1770 - 213.5)/x_step)
ax_c.set_ylim((2405.6 - 1759.6)/y_step, (1739 - 1759.6)/y_step)
ax_c.set_xticks(np.arange(len(ligands_c)), ligands_c, rotation=45, ha='right', rotation_mode='anchor',
                fontsize=16.5, color='#222222')
ax_c.set_yticks(np.arange(n_rows), row_diets, fontsize=16.5, color='#111111')
ax_c.tick_params(length=4.5, width=1.3, color='#333333', pad=2.5)
for side in ['top', 'right']:
    ax_c.spines[side].set_visible(False)
for side in ['left', 'bottom']:
    ax_c.spines[side].set_linewidth(1.5)
    ax_c.spines[side].set_color('#333333')

# row groups, x in pixels and y on the row scale
group_tr = blended_transform_factory(IdentityTransform(), ax_c.transData)


def bar_px(xpx, r0, r1):
    ax_c.plot([xpx, xpx], [r0 - .2, r1 + .3], transform=group_tr, color='#222222', lw=1.5,
              clip_on=False, solid_capstyle='butt')


for i, ctype in enumerate(row_types):
    r0 = i*4
    bar_px(62, r0, r0 + 3)
    bar_px(123, r0, r0 + 1)
    bar_px(123, r0 + 2, r0 + 3)
    ax_c.text(95, r0 + .58, row_housing[i*2], transform=group_tr, fontsize=16.5, ha='center', va='center')
    ax_c.text(95, r0 + 2.58, row_housing[i*2 + 1], transform=group_tr, fontsize=16.5, ha='center', va='center')
    if '\n' in ctype:
        ax_c.text(26, r0 + 1.55, ctype, transform=group_tr, fontsize=16.5, rotation=90, ha='center', va='center',
                  multialignment='center', linespacing=1.7)
    else:
        ax_c.text(40, r0 + 1.55, ctype, transform=group_tr, fontsize=16.5, rotation=90, ha='center', va='center')

text_px(984, 1726, 'test_ligand', fontsize=16, ha='center', va='center', color='#222222')
panel_letter(46, 1685, 'c')

# legends
text_px(1795, 1887, 'Average Expression', fontsize=19, ha='left', va='center', color='#111111')
gradient_bar((1795, 1910, 1824, 2055), avg_cmap, avg_vmin, avg_vmax, [-2, -1, 0, 1, 2],
             ['-2', '-1', '0', '1', '2'], vertical=True, size=16, pad=9, color='#111111')
text_px(1795, 2097, 'Percent Expressed', fontsize=19, ha='left', va='center', color='#111111')

ax_size = axes_px(1795, 2123, 1900, 2275)
ax_size.scatter([.3]*len(size_breaks), range(len(size_breaks)), s=dot_area(size_breaks), color='black', linewidths=0,
                clip_on=False)
ax_size.set_xlim(0, 1)
ax_size.set_ylim(4.6, -.5)
ax_size.axis('off')
for i, b in enumerate(size_breaks):
    ax_size.text(.49, i, str(b), fontsize=16, va='center', ha='left', color='#111111')

fig.savefig('out.png', dpi=100, facecolor='white')
